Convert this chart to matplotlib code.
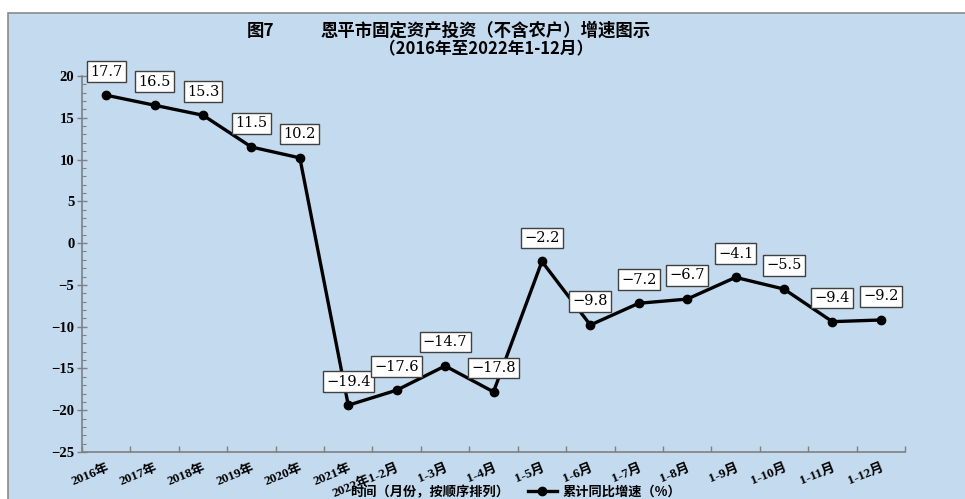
import matplotlib
matplotlib.use("Agg")
import matplotlib.pyplot as plt
from matplotlib.patches import Rectangle
from matplotlib.ticker import MultipleLocator, FixedLocator
import numpy as np

plt.rcParams['font.family'] = ['Noto Sans CJK SC', 'DejaVu Sans']
plt.rcParams['axes.unicode_minus'] = True

categories = ["2016年", "2017年", "2018年", "2019年", "2020年", "2021年",
              "2022年1-2月", "1-3月", "1-4月", "1-5月", "1-6月", "1-7月",
              "1-8月", "1-9月", "1-10月", "1-11月", "1-12月"]
values = [17.7, 16.5, 15.3, 11.5, 10.2, -19.4, -17.6, -14.7, -17.8, -2.2,
          -9.8, -7.2, -6.7, -4.1, -5.5, -9.4, -9.2]
series_name = "累计同比增速（%）"
title_fig = "图7"
title1 = "恩平市固定资产投资（不含农户）增速图示"
title2 = "（2016年至2022年1-12月）"
xlabel = "时间（月份，按顺序排列）"

W, H = 965, 499
fig = plt.figure(figsize=(W / 100, H / 100), dpi=100)
bg = "#c4daee"
fig.patches.append(Rectangle((8 / W, -0.01), 1.0, (H - 13) / H + 0.01,
                             transform=fig.transFigure, facecolor=bg,
                             edgecolor="#8a8a8a", linewidth=1.2, zorder=-10))

ax = fig.add_axes([82 / W, (H - 452) / H, (905 - 82) / W, (452 - 76) / H])
ax.set_facecolor("none")
x = np.arange(len(values))
ax.plot(x, values, color="black", lw=2.4, marker="o", ms=6, zorder=3,
        label=series_name)

for xi, v in zip(x, values):
    ax.annotate(f"{v:.1f}".replace("-", "−"), (xi, v), xytext=(0, 12),
                textcoords="offset points", ha="center", va="bottom",
                fontsize=10.5, family=["DejaVu Serif"],
                bbox=dict(boxstyle="square,pad=0.22", fc="white",
                          ec="#404040", lw=1.0), zorder=5)

ax.set_xlim(-0.5, len(values) - 0.5)
ax.set_ylim(-25, 20)
ax.yaxis.set_major_locator(MultipleLocator(5))
ax.yaxis.set_minor_locator(MultipleLocator(1))
ax.xaxis.set_major_locator(FixedLocator(np.arange(len(values) + 1) - 0.5))
ax.xaxis.set_minor_locator(FixedLocator(x))
ax.xaxis.set_major_formatter(plt.NullFormatter())
ax.set_xticks(x, categories, minor=True)
for lab in ax.get_xticklabels(minor=True):
    lab.set_rotation(22)
    lab.set_ha("right")
    lab.set_va("top")
    lab.set_rotation_mode("anchor")
    lab.set_fontsize(9.5)
    lab.set_fontweight("bold")
    lab.set_family(["Liberation Serif", "Noto Sans CJK SC"])
ax.tick_params(axis="x", which="major", direction="in", length=4,
               color="#808080", width=1)
ax.tick_params(axis="x", which="minor", length=0, pad=7)
ax.tick_params(axis="y", which="major", direction="inout", length=7,
               color="#808080", width=1, labelsize=10.5, pad=2)
ax.tick_params(axis="y", which="minor", direction="in", length=3,
               color="#808080", width=0.8)
for lab in ax.get_yticklabels():
    lab.set_fontweight("bold")
    lab.set_family(["Liberation Serif", "DejaVu Serif"])

for s in ["top", "right"]:
    ax.spines[s].set_visible(False)
for s in ["left", "bottom"]:
    ax.spines[s].set_color("#808080")
    ax.spines[s].set_linewidth(1.2)

fig.text(247 / W, 1 - 31 / H, title_fig, ha="left", va="center",
         fontsize=12.5, fontweight="bold")
fig.text(486 / W, 1 - 31 / H, title1, ha="center", va="center",
         fontsize=12.5, fontweight="bold")
fig.text(486 / W, 1 - 49 / H, title2, ha="center", va="center",
         fontsize=12, fontweight="bold")
fig.text(430 / W, 1 - 492 / H, xlabel, ha="center", va="center",
         fontsize=9.5, fontweight="bold")
leg = ax.legend(loc="center left", bbox_to_anchor=(516 / W, 1 - 492 / H),
                bbox_transform=fig.transFigure, frameon=False,
                handlelength=2.2, handletextpad=0.4,
                prop=dict(size=9.5, weight="bold"))

fig.savefig("out.png", dpi=100)
